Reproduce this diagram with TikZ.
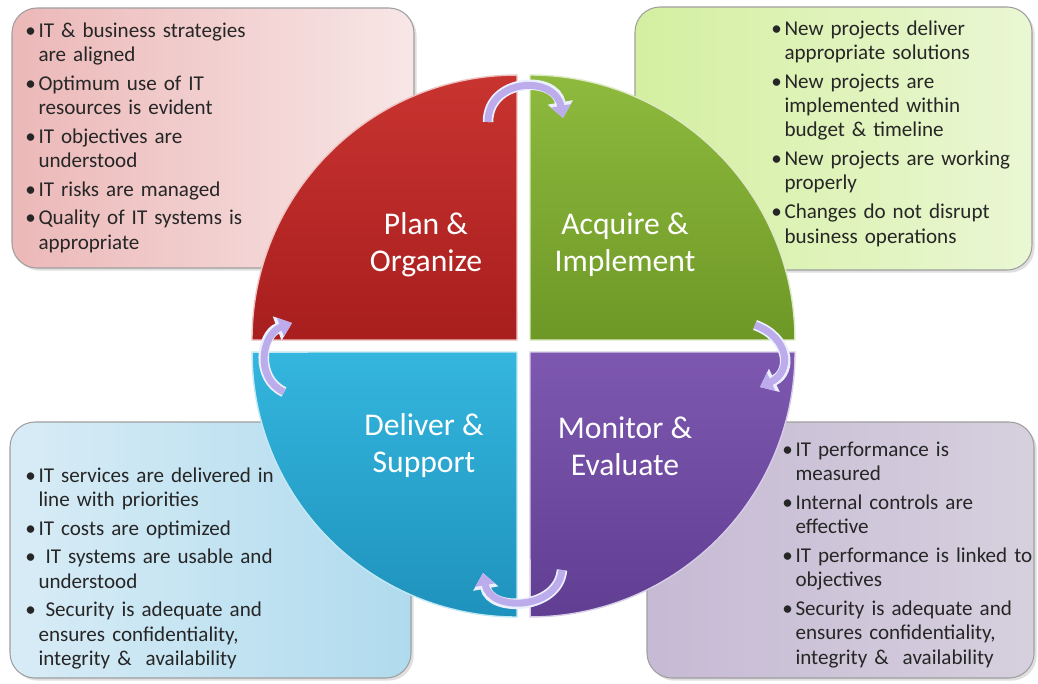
\documentclass[tikz,border=0pt]{standalone}
\usepackage{fontspec}
\setmainfont{Carlito}
\usetikzlibrary{arrows.meta,shadows}

\definecolor{planred}{RGB}{200,52,48}
\definecolor{planreddk}{RGB}{168,30,30}
\definecolor{acqgreen}{RGB}{142,186,62}
\definecolor{acqgreendk}{RGB}{110,152,38}
\definecolor{delblue}{RGB}{52,182,222}
\definecolor{delbluedk}{RGB}{30,146,188}
\definecolor{monpurple}{RGB}{126,88,176}
\definecolor{monpurpledk}{RGB}{96,62,146}
\definecolor{pinkL}{RGB}{236,184,184}
\definecolor{pinkR}{RGB}{248,230,230}
\definecolor{limeL}{RGB}{212,239,160}
\definecolor{limeR}{RGB}{234,247,212}
\definecolor{skyL}{RGB}{216,236,246}
\definecolor{skyR}{RGB}{176,219,238}
\definecolor{lilacL}{RGB}{198,186,212}
\definecolor{lilacR}{RGB}{214,208,222}
\definecolor{arrowlav}{RGB}{188,172,236}
\definecolor{arrowrim}{RGB}{236,240,252}

% one bullet point with a hanging indent
\newcommand\bpoint[1]{\hangindent=7.5pt\hangafter=1\noindent
  \makebox[7.5pt][l]{\textbullet}#1\par}

\begin{document}
\begin{tikzpicture}[x=0.02cm,y=0.02cm,
  box/.style={draw=gray!75, line width=0.6pt, rounded corners=0.5cm,
    drop shadow={opacity=0.25, shadow xshift=1.5pt, shadow yshift=-1.5pt}},
  pts/.style={anchor=base west, inner sep=0pt, text width=6cm, align=left,
    text=black!85, font=\fontsize{12}{13.9}\selectfont},
  quad/.style={draw=white!70!#1, line width=0.8pt},
  phase/.style={text=white, align=center, font=\fontsize{18}{21}\selectfont},
  cyc/.style={line width=4pt, draw=arrowlav, -{Triangle[width=11pt,length=7pt]}},
  cycrim/.style={line width=6pt, draw=arrowrim, -{Triangle[width=14pt,length=9pt]}}]

\useasboundingbox[fill=white] (0,0) rectangle (1038,-683);

% text boxes behind the wheel
\path[box, left color=pinkL, right color=pinkR] (12,-8) rectangle (414,-268);
\path[box, left color=limeL, right color=limeR] (635,-7) rectangle (1032,-270);
\path[box, left color=skyL, right color=skyR] (10,-422) rectangle (411,-678);
\path[box, left color=lilacL, right color=lilacR] (647,-422) rectangle (1034,-678);

\node[pts] (planpts) at (25,-37) {\parskip=2.4pt
  \bpoint{IT \& business strategies\newline are aligned}
  \bpoint{Optimum use of IT\newline resources is evident}
  \bpoint{IT objectives are\newline understood}
  \bpoint{IT risks are managed}
  \bpoint{Quality of IT systems is\newline appropriate}};
\node[pts] (acqpts) at (771,-35) {\parskip=2.4pt
  \bpoint{New projects deliver\newline appropriate solutions}
  \bpoint{New projects are\newline implemented within\newline budget \& timeline}
  \bpoint{New projects are working\newline properly}
  \bpoint{Changes do not disrupt\newline business operations}};
\node[pts] (delpts) at (25,-482) {\parskip=2.4pt
  \bpoint{IT services are delivered in\newline line with priorities}
  \bpoint{IT costs are optimized}
  \bpoint{\ IT systems are usable and\newline understood}
  \bpoint{\ Security is adequate and\newline ensures confidentiality,\newline integrity \&\ \ availability}};
\node[pts] (monpts) at (782,-456) {\parskip=2.4pt
  \bpoint{IT performance is\newline measured}
  \bpoint{Internal controls are\newline effective}
  \bpoint{IT performance is linked to\newline objectives}
  \bpoint{Security is adequate and\newline ensures confidentiality,\newline integrity \&\ \ availability}};

% the four quarters of the wheel
\path[quad=planred, top color=planred, bottom color=planreddk]
  (517,-340) -- (252,-340) arc[start angle=180, end angle=90, radius=5.3cm] -- cycle;
\path[quad=acqgreen, top color=acqgreen, bottom color=acqgreendk]
  (530,-340) -- (530,-75) arc[start angle=90, end angle=0, radius=5.3cm] -- cycle;
\path[quad=delblue, top color=delblue, bottom color=delbluedk]
  (517,-352) -- (517,-617) arc[start angle=270, end angle=180, radius=5.3cm] -- cycle;
\path[quad=monpurple, top color=monpurple, bottom color=monpurpledk]
  (530,-352) -- (795,-352) arc[start angle=0, end angle=-90, radius=5.3cm] -- cycle;

\node[phase] (plan) at (426,-245) {Plan \&\\Organize};
\node[phase] (acq) at (625,-245) {Acquire \&\\Implement};
\node[phase] (del) at (424,-446) {Deliver \&\\Support};
\node[phase] (mon) at (625,-446) {Monitor \&\\Evaluate};

% curved arrows between the quarters, running clockwise
\coordinate (t1) at (488,-122); \coordinate (h1) at (563,-118);
\coordinate (t2) at (755,-325); \coordinate (h2) at (760,-387);
\coordinate (t3) at (562,-570); \coordinate (h3) at (483,-573);
\coordinate (t4) at (284,-392); \coordinate (h4) at (292,-323);

\draw[cycrim] (t1) to[out=90, in=100, looseness=1.5] (h1);
\draw[cyc] (t1) to[out=90, in=100, looseness=1.5] (h1);
\draw[cycrim] (t2) to[out=-20, in=25, looseness=1.5] (h2);
\draw[cyc] (t2) to[out=-20, in=25, looseness=1.5] (h2);
\draw[cycrim] (t3) to[out=-95, in=-80, looseness=1.3] (h3);
\draw[cyc] (t3) to[out=-95, in=-80, looseness=1.3] (h3);
\draw[cycrim] (t4) to[out=155, in=200, looseness=1.2] (h4);
\draw[cyc] (t4) to[out=155, in=200, looseness=1.2] (h4);
\end{tikzpicture}
\end{document}
